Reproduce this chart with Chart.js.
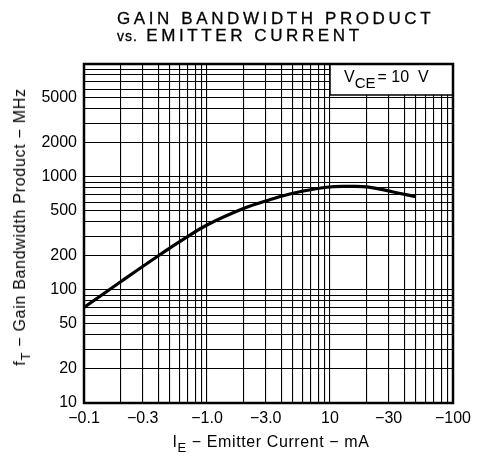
<!DOCTYPE html>
<html>
<head>
<meta charset="utf-8">
<script src="https://cdn.jsdelivr.net/npm/chart.js@4"></script>
<style>
  html, body { margin:0; padding:0; background:#fff; }
  #wrap { position:relative; width:479px; height:457px; overflow:hidden; font-family:"Liberation Sans", Arial, sans-serif; color:#000; }
  canvas { position:absolute; left:0; top:0; }
  .t { position:absolute; white-space:nowrap; }
  #title1 { left:117px; top:9px; font-size:17px; letter-spacing:3.6px; -webkit-text-stroke:0.3px #000; }
  #title2 { left:117px; top:26px; font-size:17px; letter-spacing:3.6px; -webkit-text-stroke:0.3px #000; }
  #xtitle { left:0; width:542px; text-align:center; top:433px; font-size:16px; letter-spacing:0.6px; }
  #ytitle { left:20px; top:227px; font-size:16px; letter-spacing:0.7px; transform:translate(-50%,-50%) rotate(-90deg); }
  sub { font-size:13px; vertical-align:-5px; line-height:0; }
</style>
</head>
<body>
<div id="wrap">
  <canvas id="c" width="479" height="457"></canvas>
  <div class="t" id="title1">GAIN BANDWIDTH PRODUCT</div>
  <div class="t" id="title2"><span style="font-size:14px;letter-spacing:1px">vs.</span> EMITTER CURRENT</div>
  <div class="t" id="xtitle">I<sub>E</sub> − Emitter Current − mA</div>
  <div class="t" id="ytitle">f<sub>T</sub> − Gain Bandwidth Product − MHz</div>
</div>
<script>
// Emitter current I_E (mA) and gain bandwidth product f_T (MHz)
const emitterCurrent = [0.1, 0.2, 0.4, 0.65, 1.0, 2.0, 3.2, 5.0, 9.4, 14, 20, 32, 50];
const gainBandwidth  = [70, 119, 200, 283, 376, 528, 626, 718, 811, 826, 818, 741, 668];

const xTickValues = [0.1, 0.3, 1, 3, 10, 30, 100];
const xTickLabels = ["−0.1", "−0.3", "−1.0", "−3.0", "10", "−30", "−100"];
const yTickValues = [10, 20, 50, 100, 200, 500, 1000, 2000, 5000];
const yTickLabels = ["10", "20", "50", "100", "200", "500", "1000", "2000", "5000"];

const xMin = 0.1, xMax = 100, yMin = 10, yMax = 10000;

function logGrid(min, max) {
  const out = [];
  for (let d = min; d < max * 0.999; d *= 10) {
    for (let m = 1; m <= 9; m++) out.push(+(d * m).toPrecision(6));
  }
  out.push(max);
  return out;
}

const points = emitterCurrent.map((x, i) => ({ x: x, y: gainBandwidth[i] }));

const frame = {
  id: 'frame',
  afterDatasetsDraw(chart) {
    const { ctx, chartArea: a, scales } = chart;
    ctx.save();
    // V_CE box
    const bx = scales.x.getPixelForValue(10);
    const bh = 31;
    ctx.fillStyle = '#fff';
    ctx.fillRect(bx, a.top, a.right - bx, bh);
    ctx.strokeStyle = '#000';
    ctx.lineWidth = 1.5;
    ctx.strokeRect(bx, a.top, a.right - bx, bh);
    ctx.fillStyle = '#000';
    ctx.textBaseline = 'alphabetic';
    ctx.font = '16px "Liberation Sans", Arial, sans-serif';
    let tx = bx + 14;
    ctx.fillText('V', tx, a.top + 18);
    tx += ctx.measureText('V').width;
    ctx.font = '15px "Liberation Sans", Arial, sans-serif';
    ctx.fillText('CE', tx, a.top + 24);
    tx += ctx.measureText('CE').width + 2;
    ctx.font = '16px "Liberation Sans", Arial, sans-serif';
    ctx.fillText('= 10  V', tx, a.top + 18);
    // plot border
    ctx.lineWidth = 2.5;
    ctx.strokeRect(a.left, a.top, a.right - a.left, a.bottom - a.top);
    ctx.restore();
  }
};

new Chart(document.getElementById('c'), {
  type: 'line',
  data: {
    datasets: [{
      data: points,
      borderColor: '#000',
      borderWidth: 3.2,
      pointRadius: 0,
      fill: false,
      tension: 0.4
    }]
  },
  options: {
    responsive: false,
    animation: false,
    devicePixelRatio: 1,
    layout: { padding: { left: 0, right: 26, top: 64, bottom: 0 } },
    plugins: { legend: { display: false }, tooltip: { enabled: false }, title: { display: false } },
    scales: {
      x: {
        type: 'logarithmic',
        min: xMin, max: xMax,
        afterBuildTicks(s) { s.ticks = logGrid(xMin, xMax).map(v => ({ value: v })); },
        afterFit(s) { s.height = 54; },
        grid: { color: '#000', lineWidth: 1.1, drawTicks: false },
        border: { color: '#000', width: 2 },
        ticks: {
          autoSkip: false, maxRotation: 0, minRotation: 0, padding: 6, color: '#000',
          font: { family: '"Liberation Sans", Arial, sans-serif', size: 16 },
          callback(v) {
            const i = xTickValues.findIndex(t => Math.abs(t - v) / t < 1e-6);
            return i >= 0 ? xTickLabels[i] : '';
          }
        }
      },
      y: {
        type: 'logarithmic',
        min: yMin, max: yMax,
        afterBuildTicks(s) { s.ticks = logGrid(yMin, yMax).map(v => ({ value: v })); },
        afterFit(s) { s.width = 84; },
        grid: { color: '#000', lineWidth: 1.1, drawTicks: false },
        border: { color: '#000', width: 2 },
        ticks: {
          autoSkip: false, padding: 7, color: '#000',
          font: { family: '"Liberation Sans", Arial, sans-serif', size: 16 },
          callback(v) {
            const i = yTickValues.findIndex(t => Math.abs(t - v) / t < 1e-6);
            return i >= 0 ? yTickLabels[i] : '';
          }
        }
      }
    }
  },
  plugins: [frame]
});
</script>
</body>
</html>
